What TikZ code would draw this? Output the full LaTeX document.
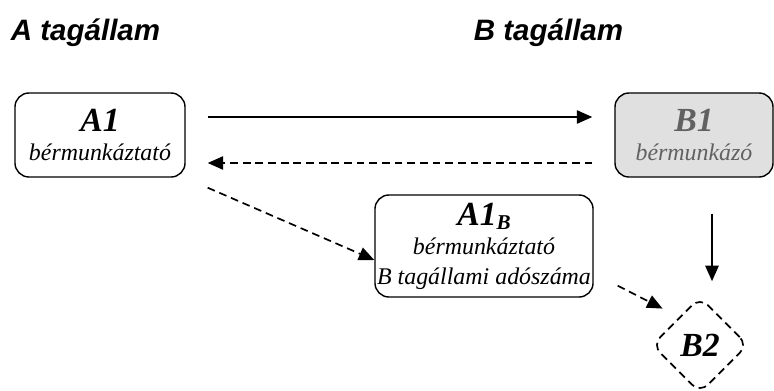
\documentclass[tikz,border=0pt]{standalone}
\usepackage{fontspec}
\setmainfont{Liberation Serif}
\newfontfamily\headfont{Liberation Sans}
\usetikzlibrary{arrows.meta,shapes.geometric}

\begin{document}
\begin{tikzpicture}[x=0.025cm, y=-0.025cm, >={Triangle[length=11pt,width=9.5pt]}, line width=1.2pt,
  dashes/.style={dash pattern=on 5.5pt off 3.5pt},
  head/.style={font=\headfont\bfseries\itshape\fontsize{21}{25}\selectfont, anchor=base west, inner sep=0pt},
  box/.style={draw, line width=1pt, rounded corners=10pt, align=center, inner sep=0pt,
    font=\itshape\fontsize{17}{21}\selectfont},
  gbox/.style={box, fill=black!12, text=black!62},
  title/.style={font=\bfseries\itshape\fontsize{24}{25}\selectfont}]

\useasboundingbox (0,0) rectangle (774,390);

\node[head] (hA) at (10,40) {A tagállam};
\node[head] (hB) at (473,40) {B tagállam};

\node[box, minimum width=4.25cm, minimum height=2.1cm] (A1) at (100,135)
  {{\bfseries\fontsize{24}{25}\selectfont A1}\\bérmunkáztató};
\node[gbox, minimum width=3.95cm, minimum height=2.1cm] (B1) at (694,135)
  {{\bfseries\fontsize{24}{25}\selectfont B1}\\bérmunkázó};
\node[box, minimum width=5.45cm, minimum height=2.55cm] (A1B) at (484,246)
  {{\bfseries\fontsize{24}{25}\selectfont A1\raisebox{-0.3ex}{\fontsize{15}{15}\selectfont B}}\\bérmunkáztató\\B tagállami adószáma};
\node[draw, dashes, diamond, rounded corners=8pt, inner sep=0pt, minimum size=2.4cm,
  title] (B2) at (700,345) {B2};

\draw[->] ([shift={(22,-18)}]A1.east) -- ([shift={(-22,-18)}]B1.west);
\draw[->, dashes] ([shift={(-22,28)}]B1.west) -- ([shift={(22,28)}]A1.east);
\draw[->, dashes] ([shift={(22,10)}]A1.south east) -- ([shift={(0,14)}]A1B.west);
\draw[->] ([shift={(18,36)}]B1.south) -- ([shift={(12,-15)}]B2.north);
\draw[->, dashes] ([shift={(24,-12)}]A1B.south east) -- ([shift={(-13,-12)}]B2.north west);

\end{tikzpicture}
\end{document}
